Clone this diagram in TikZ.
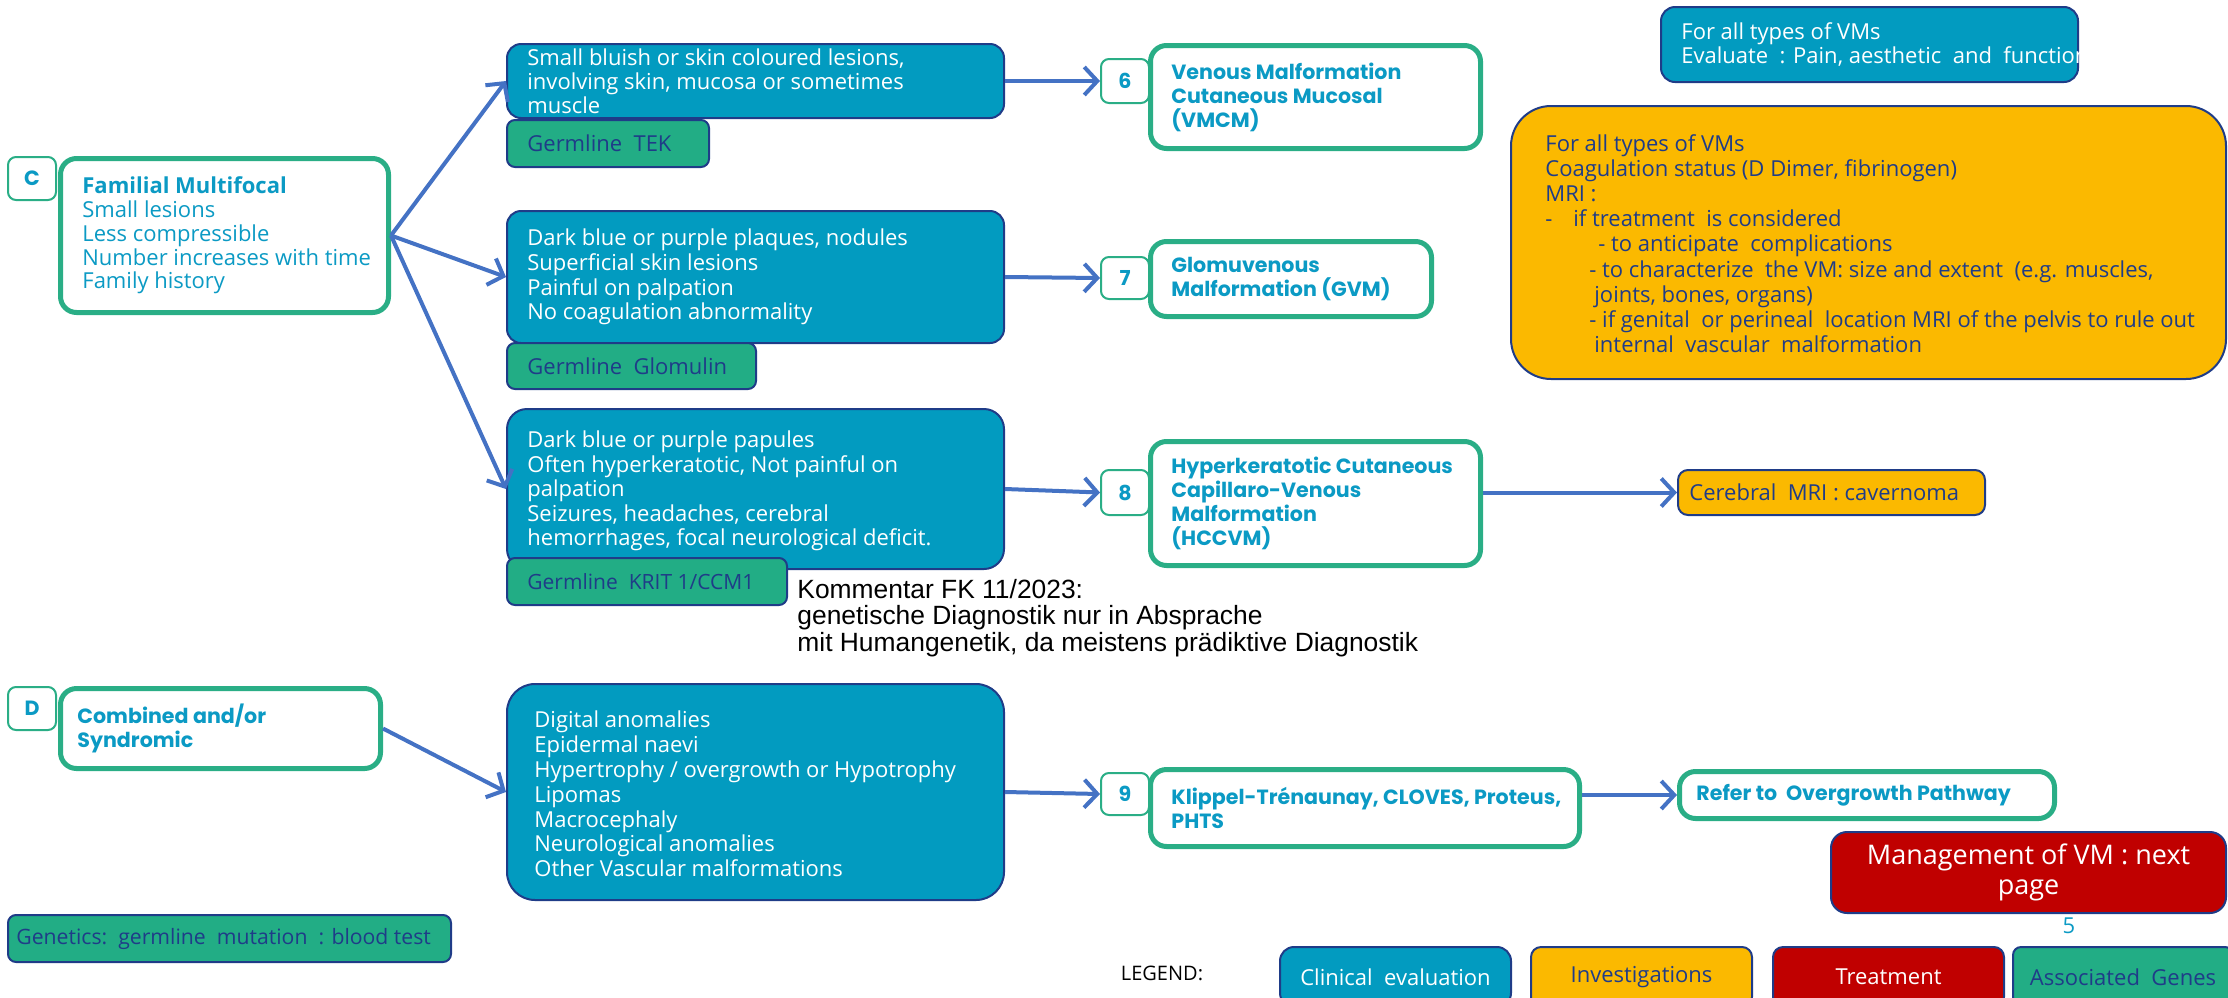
\documentclass[tikz,border=0pt]{standalone}
\usepackage{fontspec}
\setmainfont{Open Sans}
\newfontfamily\popf{Poppins}
\newfontfamily\arialf{Liberation Sans}
\usetikzlibrary{arrows.meta}
\definecolor{cblue}{HTML}{029BC0}
\definecolor{navy}{HTML}{1F3C88}
\definecolor{ggreen}{HTML}{22AD85}
\definecolor{tgreen}{HTML}{2AAE86}
\definecolor{tcyan}{HTML}{0B9AC4}
\definecolor{orng}{HTML}{FBB900}
\definecolor{dred}{HTML}{C00000}
\definecolor{arrblue}{HTML}{4472C4}
\tikzset{
  body/.style={font=\fontsize{11}{12.3}\selectfont},
  shp/.style={anchor=north west, inner sep=0pt},
  bbox/.style={shp, fill=cblue, draw=navy, line width=1pt, rounded corners=7pt},
  gbox/.style={shp, fill=ggreen, draw=navy, line width=1pt, rounded corners=4pt},
  obox/.style={shp, fill=orng, draw=navy, line width=1pt, rounded corners=5pt},
  rbox/.style={shp, fill=dred, draw=navy, line width=1pt, rounded corners=8pt},
  wbox/.style={shp, fill=white, draw=tgreen, line width=2.5pt, rounded corners=8pt},
  nbox/.style={shp, fill=white, draw=tgreen, line width=1pt, rounded corners=4pt,
     text=tcyan, font=\popf\bfseries\fontsize{10.3}{12}\selectfont},
  txt/.style={anchor=west, align=left, inner sep=0pt, body},
  ttl/.style={anchor=west, align=left, inner sep=0pt, text=tcyan,
     font=\popf\bfseries\fontsize{10.3}{12}\selectfont},
  arr/.style={draw=arrblue, line width=2pt, -{Straight Barb[length=6.5pt,width=14pt]}}
}
\begin{document}
\begin{tikzpicture}[x=0.5pt,y=-0.5pt]
\useasboundingbox (0,0) rectangle (2228,997);
\clip (0,0) rectangle (2228,997);

% ---- C group
\node[nbox, minimum width=24pt, minimum height=21.5pt] (clab) at (7,156) {C};
\node[wbox, minimum width=164pt, minimum height=77pt] (cm) at (58,156) {};
\node[txt, text=tcyan, font=\fontsize{11}{11.9}\selectfont] (cmt) at ([xshift=12pt]cm.west)
  {{\bfseries Familial Multifocal}\\Small lesions\\Less compressible\\Number increases with time\\Family history};

\node[bbox, minimum width=248.5pt, minimum height=37pt] (b1) at (506,43) {};
\node[txt, text=white, font=\fontsize{11}{12.1}\selectfont] (b1t) at ([xshift=10.5pt]b1.west)
  {Small bluish or skin coloured lesions,\\involving skin, mucosa or sometimes\\muscle};
\node[gbox, minimum width=101pt, minimum height=23.5pt] (g1) at (506,119) {};
\node[txt, text=navy] (g1t) at ([xshift=10.5pt]g1.west) {Germline\ \ TEK};

\node[bbox, minimum width=248.5pt, minimum height=66pt] (b2) at (506,210) {};
\node[txt, text=white] (b2t) at ([xshift=10.5pt]b2.west)
  {Dark blue or purple plaques, nodules\\Superficial skin lesions\\Painful on palpation\\No coagulation abnormality};
\node[gbox, minimum width=124.5pt, minimum height=23pt] (g2) at (506,342) {};
\node[txt, text=navy] (g2t) at ([xshift=10.5pt]g2.west) {Germline\ \ Glomulin};

\node[bbox, rounded corners=10pt, minimum width=248.5pt, minimum height=80pt] (b3) at (506,408) {};
\node[txt, text=white] (b3t) at ([xshift=10.5pt,yshift=-1pt]b3.west)
  {Dark blue or purple papules\\Often hyperkeratotic, Not painful on\\palpation\\Seizures, headaches, cerebral\\hemorrhages, focal neurological deficit.};
\node[gbox, minimum width=140pt, minimum height=23.5pt] (g3) at (506,557) {};
\node[txt, text=navy, font=\fontsize{10.5}{12}\selectfont] (g3t) at ([xshift=10.5pt]g3.west) {Germline\ \ KRIT 1/CCM1};

\node[nbox, minimum width=24pt, minimum height=22pt] (n6) at (1100,58) {6};
\node[wbox, minimum width=165pt, minimum height=51.5pt] (m6) at (1148,43) {};
\node[ttl] (m6t) at ([xshift=11.5pt]m6.west) {Venous Malformation\\Cutaneous Mucosal\\(VMCM)};

\node[nbox, minimum width=24pt, minimum height=21pt] (n7) at (1100,256) {7};
\node[wbox, minimum width=140.5pt, minimum height=37.5pt] (m7) at (1148,239) {};
\node[ttl] (m7t) at ([xshift=11.5pt]m7.west) {Glomuvenous\\Malformation (GVM)};

\node[nbox, minimum width=24pt, minimum height=22.5pt] (n8) at (1100,469) {8};
\node[wbox, minimum width=165pt, minimum height=62pt] (m8) at (1148,439) {};
\node[ttl] (m8t) at ([xshift=11.5pt]m8.west) {Hyperkeratotic Cutaneous\\Capillaro-Venous\\Malformation\\(HCCVM)};

\node[obox, minimum width=153.5pt, minimum height=22.5pt] (cer) at (1677,469) {};
\node[txt, text=navy] (cert) at ([xshift=6pt]cer.west) {Cerebral\ \ MRI : cavernoma};

\node[txt, font=\arialf\fontsize{13.2}{13.25}\selectfont, text=black] (komm) at (797,618)
  {Kommentar FK 11/2023:\\genetische Diagnostik nur in Absprache\\mit Humangenetik, da meistens prädiktive Diagnostik};

% ---- D group
\node[nbox, minimum width=24pt, minimum height=21.5pt] (dlab) at (7,686) {D};
\node[wbox, minimum width=160pt, minimum height=40pt] (dm) at (58,686) {};
\node[ttl] (dmt) at ([xshift=9.5pt]dm.west) {Combined and/or\\Syndromic};

\node[bbox, rounded corners=14pt, minimum width=248.5pt, minimum height=108pt] (bd) at (506,683) {};
\node[txt, text=white, font=\fontsize{11}{12.4}\selectfont] (bdt) at ([xshift=14pt,yshift=-1pt]bd.west)
  {Digital anomalies\\Epidermal naevi\\Hypertrophy / overgrowth or Hypotrophy\\Lipomas\\Macrocephaly\\Neurological anomalies\\Other Vascular malformations};

\node[nbox, minimum width=24pt, minimum height=21pt] (n9) at (1100,772) {9};
\node[wbox, minimum width=214.5pt, minimum height=38.5pt] (m9) at (1148,767) {};
\node[ttl] (m9t) at ([xshift=11.5pt]m9.west) {Klippel-Trénaunay, CLOVES, Proteus,\\PHTS};

\node[wbox, minimum width=187.5pt, minimum height=23.5pt] (ref) at (1677,769) {};
\node[ttl] (reft) at ([xshift=9.5pt]ref.west) {Refer to\ \ Overgrowth Pathway};

% ---- right side info
\node[bbox, minimum width=208.5pt, minimum height=37.5pt] (topb) at (1660,6) {};
\begin{scope}
  \clip (topb.north west) rectangle (topb.south east);
  \node[txt, text=white] (topbt) at ([xshift=10.5pt]topb.west)
    {For all types of VMs\\Evaluate\ \ : Pain, aesthetic\ \ and\ \ functional};
\end{scope}

\node[obox, rounded corners=20pt, minimum width=357.5pt, minimum height=136.5pt] (ob) at (1510,105) {};
\node[txt, text=navy, font=\fontsize{11}{12.6}\selectfont] (obt) at ([xshift=17.5pt,yshift=-0.5pt]ob.west)
  {For all types of VMs\\
   Coagulation status (D Dimer, fibrinogen)\\
   MRI :\\
   \makebox[14pt][l]{-}if treatment\ \ is considered\\
   \hspace*{26.5pt}- to anticipate\ \ complications\\
   \hspace*{22pt}- to characterize\ \ the VM: size and extent\ \ (e.g. muscles,\\
   \hspace*{24.5pt}joints, bones, organs)\\
   \hspace*{22pt}- if genital\ \ or perineal\ \ location MRI of the pelvis to rule out\\
   \hspace*{24.5pt}internal\ \ vascular\ \ malformation};

\node[rbox, minimum width=197.5pt, minimum height=40.5pt] (mg) at (1830,831) {};
\node[align=center, inner sep=0pt, text=white, font=\fontsize{13.5}{15}\selectfont] (mgt) at (mg.center) {Management of VM : next\\page};
\node[text=tcyan, inner sep=0pt, font=\fontsize{11}{13}\selectfont] (pg) at (2069,926) {5};

\node[gbox, minimum width=221.5pt, minimum height=23.5pt] (gen) at (7,914) {};
\node[txt, text=navy, font=\fontsize{10.6}{12}\selectfont] (gent) at ([xshift=4.5pt]gen.west) {Genetics:\ \ germline\ \ mutation\ \ : blood test};

% ---- legend
\node[inner sep=0pt, font=\fontsize{10}{12}\selectfont, text=black] (leg) at (1162,973) {LEGEND:};
\node[bbox, minimum width=115.5pt, minimum height=30pt] (l1) at (1279,946) {};
\node[inner sep=0pt, body, text=white] (l1t) at (l1.center) {Clinical\ \ evaluation};
\node[obox, minimum width=110.5pt, minimum height=30pt] (l2) at (1530,946) {};
\node[inner sep=0pt, body, text=navy] (l2t) at (l2.center) {Investigations};
\node[rbox, rounded corners=5pt, minimum width=115.5pt, minimum height=30pt] (l3) at (1772,946) {};
\node[inner sep=0pt, body, text=white] (l3t) at (l3.center) {Treatment};
\node[gbox, minimum width=110pt, minimum height=30pt] (l4) at (2012,946) {};
\node[inner sep=0pt, body, text=navy] (l4t) at (l4.center) {Associated\ \ Genes};

% ---- connectors
\draw[arr] (cm.east) -- (b1.west);
\draw[arr] (cm.east) -- (b2.west);
\draw[arr] (cm.east) -- (b3.west);
\draw[arr] (b1.east) -- (n6.west);
\draw[arr] (b2.east) -- (n7.west);
\draw[arr] (b3.east) -- (n8.west);
\draw[arr] (m8.east |- cer.west) -- (cer.west);
\draw[arr] (dm.east) -- (bd.west);
\draw[arr] (bd.east) -- (n9.west);
\draw[arr] (m9.east |- ref.west) -- (ref.west);
\end{tikzpicture}
\end{document}
